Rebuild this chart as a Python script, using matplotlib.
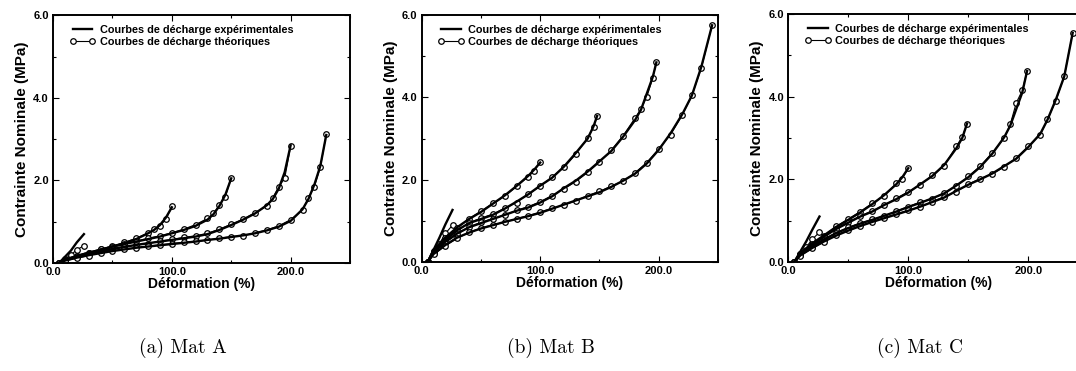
import matplotlib
matplotlib.use("Agg")
import matplotlib.pyplot as plt
import matplotlib.transforms as mtransforms
from matplotlib.ticker import MultipleLocator, FormatStrFormatter

plt.rcParams['font.family'] = ['Liberation Sans', 'DejaVu Sans']

# Mat A : deformation (%) and nominal stress (MPa), one list per unloading curve
mat_a_x = [[5, 10, 15, 20, 26],
           [5, 10, 20, 30, 40, 50, 60, 70, 80, 85, 90, 95, 100],
           [5, 10, 20, 30, 40, 50, 60, 70, 80, 90, 100, 110, 120, 130, 135, 140, 145, 150],
           [5, 10, 20, 30, 40, 50, 60, 70, 80, 90, 100, 110, 120, 130, 140, 150, 160, 170, 180, 185, 190, 195, 200],
           [5, 10, 20, 30, 40, 50, 60, 70, 80, 90, 100, 110, 120, 130, 140, 150, 160, 170, 180, 190, 200, 210, 215, 220, 225, 230]]
mat_a_exp = [[0, 0.15, 0.3, 0.5, 0.7],
             [0, 0.08, 0.17, 0.25, 0.32, 0.4, 0.48, 0.58, 0.72, 0.8, 0.92, 1.1, 1.35],
             [0, 0.08, 0.17, 0.25, 0.32, 0.4, 0.46, 0.52, 0.58, 0.64, 0.72, 0.8, 0.9, 1.05, 1.18, 1.38, 1.65, 2.05],
             [0, 0.07, 0.15, 0.22, 0.28, 0.34, 0.39, 0.44, 0.48, 0.52, 0.56, 0.6, 0.64, 0.7, 0.8, 0.92, 1.05, 1.2, 1.4, 1.55, 1.8, 2.2, 2.85],
             [0, 0.06, 0.13, 0.19, 0.24, 0.29, 0.33, 0.37, 0.4, 0.43, 0.46, 0.49, 0.52, 0.56, 0.59, 0.63, 0.67, 0.72, 0.79, 0.88, 1.02, 1.3, 1.55, 1.9, 2.35, 3.1]]
mat_a_th = [[0, 0.1, 0.2, 0.32, 0.42],
            [0, 0.07, 0.16, 0.24, 0.33, 0.41, 0.5, 0.6, 0.73, 0.82, 0.9, 1.06, 1.37],
            [0, 0.07, 0.16, 0.24, 0.33, 0.39, 0.45, 0.53, 0.6, 0.66, 0.73, 0.82, 0.93, 1.08, 1.2, 1.4, 1.6, 2.07],
            [0, 0.06, 0.14, 0.21, 0.29, 0.35, 0.4, 0.43, 0.47, 0.53, 0.57, 0.62, 0.66, 0.72, 0.82, 0.94, 1.06, 1.22, 1.38, 1.58, 1.85, 2.05, 2.83],
            [0, 0.05, 0.12, 0.18, 0.25, 0.3, 0.34, 0.36, 0.41, 0.44, 0.47, 0.5, 0.53, 0.55, 0.6, 0.64, 0.66, 0.73, 0.8, 0.9, 1.05, 1.28, 1.58, 1.85, 2.32, 3.12]]

# Mat B
mat_b_x = [[5, 10, 15, 20, 26],
           [5, 10, 20, 30, 40, 50, 60, 70, 80, 90, 95, 100],
           [5, 10, 20, 30, 40, 50, 60, 70, 80, 90, 100, 110, 120, 130, 140, 145, 148],
           [5, 10, 20, 30, 40, 50, 60, 70, 80, 90, 100, 110, 120, 130, 140, 150, 160, 170, 180, 185, 190, 195, 198],
           [5, 10, 20, 30, 40, 50, 60, 70, 80, 90, 100, 110, 120, 130, 140, 150, 160, 170, 180, 190, 200, 210, 220, 228, 236, 245]]
mat_b_exp = [[0, 0.3, 0.6, 0.92, 1.27],
             [0, 0.3, 0.6, 0.85, 1.05, 1.22, 1.42, 1.62, 1.85, 2.1, 2.25, 2.42],
             [0, 0.28, 0.55, 0.78, 0.95, 1.05, 1.15, 1.3, 1.47, 1.65, 1.86, 2.05, 2.32, 2.65, 3.0, 3.3, 3.55],
             [0, 0.25, 0.5, 0.7, 0.85, 0.95, 1.05, 1.15, 1.25, 1.33, 1.45, 1.6, 1.8, 1.98, 2.2, 2.45, 2.7, 3.05, 3.45, 3.7, 4.1, 4.5, 4.85],
             [0, 0.2, 0.42, 0.6, 0.72, 0.82, 0.9, 0.98, 1.05, 1.12, 1.2, 1.3, 1.4, 1.5, 1.6, 1.7, 1.83, 1.98, 2.15, 2.4, 2.73, 3.13, 3.6, 4.05, 4.75, 5.75]]
mat_b_th = [[0, 0.22, 0.45, 0.7, 0.9],
            [0, 0.28, 0.58, 0.83, 1.06, 1.24, 1.43, 1.6, 1.84, 2.08, 2.22, 2.44],
            [0, 0.26, 0.53, 0.76, 0.96, 1.07, 1.17, 1.31, 1.45, 1.66, 1.84, 2.07, 2.3, 2.62, 3.02, 3.28, 3.55],
            [0, 0.24, 0.48, 0.68, 0.86, 0.97, 1.06, 1.14, 1.26, 1.35, 1.47, 1.62, 1.78, 1.96, 2.18, 2.43, 2.72, 3.07, 3.5, 3.72, 4.02, 4.48, 4.85],
            [0, 0.19, 0.4, 0.58, 0.73, 0.83, 0.91, 0.97, 1.06, 1.13, 1.22, 1.31, 1.39, 1.49, 1.62, 1.72, 1.85, 1.97, 2.17, 2.42, 2.75, 3.1, 3.58, 4.05, 4.72, 5.75]]

# Mat C
mat_c_x = [[5, 10, 15, 20, 26],
           [5, 10, 20, 30, 40, 50, 60, 70, 80, 90, 95, 100],
           [5, 10, 20, 30, 40, 50, 60, 70, 80, 90, 100, 110, 120, 130, 140, 145, 149],
           [5, 10, 20, 30, 40, 50, 60, 70, 80, 90, 100, 110, 120, 130, 140, 150, 160, 170, 180, 185, 190, 195, 199],
           [5, 10, 20, 30, 40, 50, 60, 70, 80, 90, 100, 110, 120, 130, 140, 150, 160, 170, 180, 190, 200, 210, 216, 223, 230, 237]]
mat_c_exp = [[0, 0.25, 0.5, 0.78, 1.1],
             [0, 0.22, 0.45, 0.65, 0.85, 1.02, 1.2, 1.4, 1.62, 1.88, 2.05, 2.27],
             [0, 0.2, 0.42, 0.62, 0.8, 0.95, 1.1, 1.22, 1.38, 1.52, 1.68, 1.88, 2.08, 2.35, 2.75, 3.0, 3.35],
             [0, 0.18, 0.38, 0.55, 0.7, 0.82, 0.93, 1.02, 1.12, 1.22, 1.33, 1.43, 1.54, 1.66, 1.85, 2.05, 2.3, 2.62, 3.02, 3.3, 3.7, 4.1, 4.62],
             [0, 0.16, 0.34, 0.5, 0.64, 0.76, 0.87, 0.97, 1.06, 1.15, 1.24, 1.34, 1.45, 1.56, 1.72, 1.87, 2.0, 2.14, 2.32, 2.5, 2.78, 3.1, 3.44, 3.93, 4.49, 5.54]]
mat_c_th = [[0, 0.18, 0.36, 0.55, 0.72],
            [0, 0.2, 0.43, 0.64, 0.86, 1.04, 1.22, 1.42, 1.6, 1.9, 2.02, 2.27],
            [0, 0.19, 0.4, 0.6, 0.81, 0.97, 1.11, 1.24, 1.37, 1.54, 1.7, 1.86, 2.1, 2.33, 2.8, 3.02, 3.35],
            [0, 0.17, 0.36, 0.54, 0.71, 0.84, 0.94, 1.03, 1.11, 1.23, 1.34, 1.45, 1.53, 1.68, 1.83, 2.07, 2.32, 2.64, 3.0, 3.33, 3.85, 4.15, 4.62],
            [0, 0.15, 0.33, 0.49, 0.65, 0.78, 0.88, 0.96, 1.07, 1.16, 1.25, 1.33, 1.46, 1.58, 1.7, 1.88, 2.02, 2.13, 2.3, 2.52, 2.8, 3.08, 3.45, 3.9, 4.5, 5.54]]

captions = ['(a) Mat A', '(b) Mat B', '(c) Mat C']
panels = [(mat_a_x, mat_a_exp, mat_a_th),
          (mat_b_x, mat_b_exp, mat_b_th),
          (mat_c_x, mat_c_exp, mat_c_th)]

# axes boxes in figure fractions (left, bottom, width, height)
boxes = [[0.0493, 0.291, 0.276, 0.668],
         [0.3919, 0.293, 0.2754, 0.6666],
         [0.7326, 0.2938, 0.2788, 0.6685]]
cap_x = [0.170, 0.512, 0.855]

fig = plt.figure(figsize=(10.76, 3.71), dpi=100)

for k, (xs, exps, ths) in enumerate(panels):
    ax = fig.add_axes(boxes[k])
    for x, ye, yt in zip(xs, exps, ths):
        ax.plot(x, ye, color='black', lw=1.7, zorder=3)
        ax.plot(x, yt, color='black', lw=0.8, marker='o', ms=4, mfc='white',
                mec='black', mew=0.9, zorder=2)
    ax.set_xlim(0, 250)
    ax.set_ylim(0, 6)
    ax.xaxis.set_major_locator(MultipleLocator(100))
    ax.xaxis.set_minor_locator(MultipleLocator(50))
    ax.yaxis.set_major_locator(MultipleLocator(2))
    ax.yaxis.set_minor_locator(MultipleLocator(1))
    ax.xaxis.set_major_formatter(FormatStrFormatter('%.1f'))
    ax.yaxis.set_major_formatter(FormatStrFormatter('%.1f'))
    ax.tick_params(which='both', direction='in', top=True, right=True, width=0.8)
    ax.tick_params(which='major', length=4, labelsize=8, pad=3)
    ax.tick_params(which='minor', length=2)
    for lab in ax.get_xticklabels() + ax.get_yticklabels():
        lab.set_fontweight('bold')
    # nudge the "0.0" of the x axis so it clears the y axis "0.0"
    first = ax.get_xticklabels()[0]
    first.set_transform(first.get_transform() +
                        mtransforms.ScaledTranslation(5 / 72, 0, fig.dpi_scale_trans))
    for sp in ax.spines.values():
        sp.set_linewidth(1.4)
    ax.set_xlabel('Déformation (%)', fontsize=10, fontweight='bold', labelpad=0)
    ax.set_ylabel('Contrainte Nominale (MPa)', fontsize=11, fontweight='bold', labelpad=3)

    h1, = ax.plot([], [], color='black', lw=1.7)
    h2, = ax.plot([], [], color='black', lw=0.8, marker='o', ms=4, mfc='white', mec='black', mew=0.9)
    leg = ax.legend([h1, h2], ['Courbes de décharge expérimentales', 'Courbes de décharge théoriques'],
                    loc='upper left', bbox_to_anchor=(0.055, 0.96), frameon=False,
                    numpoints=2, handlelength=2.4, handletextpad=0.4, labelspacing=0.2,
                    borderpad=0, borderaxespad=0, prop={'size': 7.8, 'weight': 'bold'})

    fig.text(cap_x[k], 0.062, captions[k], ha='center', va='center', fontsize=14, family='cmr10')

fig.savefig('out.png', dpi=100)
